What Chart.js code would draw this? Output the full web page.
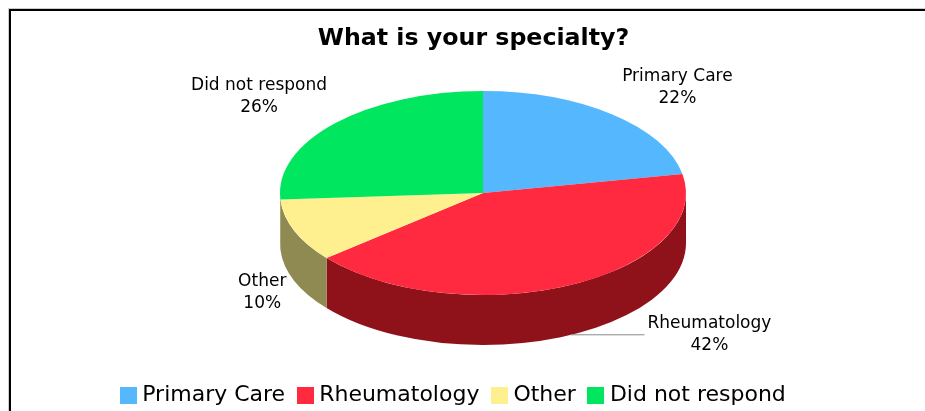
<!DOCTYPE html>
<html><head><meta charset="utf-8">
<style>
html,body{margin:0;padding:0;background:#fff;overflow:hidden}
#wrap{position:relative;width:925px;height:411px}
#frame{position:absolute;left:9px;top:9px;right:-5px;bottom:-5px;border-left:2px solid #000;border-top:2px solid #000;box-shadow:-1px -1px 0 #ccc}
canvas{position:absolute;left:0;top:0}
</style>
<script src="https://cdn.jsdelivr.net/npm/chart.js@4"></script>
</head><body>
<div id="wrap"><div id="frame"></div><canvas id="c" width="925" height="411"></canvas></div>
<script>
const titleText = "What is your specialty?";
const categories = ["Primary Care","Rheumatology","Other","Did not respond"];
const values = [22,42,10,26];
const topColors = ["#55B8FF","#FF2A3F","#FFF08F","#00E65F"];
const sideColors = ["#304F6F","#8F1119","#8F8A52","#8F8A52"];

const PIE = {cx:483, cy:193, rx:203, ry:102, depth:50};
const FONT = '"DejaVu Sans", sans-serif';
const labelOffsets = [[65,-27],[140,49],[-32,62.5],[-76,-26.5]];
const LABEL_SIZE = 17;

function applyPieTransform(ctx, arc){
  ctx.translate(PIE.cx, PIE.cy);
  ctx.scale(PIE.rx/arc.outerRadius, PIE.ry/arc.outerRadius);
  ctx.translate(-arc.x, -arc.y);
}
const pie3d = {
  id:'pie3d',
  afterLayout(chart){
    chart.titleBlock.left += 11; chart.titleBlock.right += 11;
    chart.legend.left -= 7; chart.legend.right -= 7;
    chart.legend.top += 5; chart.legend.bottom += 5;
  },
  beforeDatasetsDraw(chart){
    const ctx = chart.ctx, arcs = chart.getDatasetMeta(0).data;
    arcs.forEach((arc,i)=>{
      const a0 = Math.max(arc.startAngle,0), a1 = Math.min(arc.endAngle,Math.PI);
      if (a1 <= a0) return;
      ctx.save();
      ctx.fillStyle = sideColors[i];
      ctx.beginPath();
      ctx.ellipse(PIE.cx,PIE.cy+PIE.depth,PIE.rx,PIE.ry,0,a0,a1);
      ctx.ellipse(PIE.cx,PIE.cy,PIE.rx,PIE.ry,0,a1,a0,true);
      ctx.closePath();
      ctx.fill();
      ctx.restore();
    });
    ctx.save();
    applyPieTransform(ctx, arcs[0]);
  },
  afterDatasetsDraw(chart){
    const ctx = chart.ctx, arcs = chart.getDatasetMeta(0).data;
    ctx.restore();
    const total = values.reduce((a,b)=>a+b,0);
    ctx.save();
    ctx.font = LABEL_SIZE+'px '+FONT;
    ctx.fillStyle = '#000';
    ctx.textAlign = 'center';
    ctx.textBaseline = 'middle';
    arcs.forEach((arc,i)=>{
      const mid = (arc.startAngle+arc.endAngle)/2;
      const px = PIE.cx+PIE.rx*Math.cos(mid), py = PIE.cy+PIE.ry*Math.sin(mid);
      const lx = px+labelOffsets[i][0], ly = py+labelOffsets[i][1];
      ctx.fillText(categories[i], lx, ly-11);
      ctx.fillText(Math.round(values[i]/total*100)+'%', lx, ly+11);
      if (i===1){
        ctx.strokeStyle='#8a8a8a'; ctx.lineWidth=1;
        ctx.beginPath();
        ctx.moveTo(px+1, py+PIE.depth-0.5);
        ctx.lineTo(lx-65, py+PIE.depth-0.5);
        ctx.stroke();
      }
    });
    ctx.restore();
  }
};
function swatch(color){
  const s = document.createElement('canvas');
  s.width = 17; s.height = 17;
  const g = s.getContext('2d');
  g.fillStyle = color; g.fillRect(0,0,17,17);
  return s;
}
new Chart(document.getElementById('c'),{
  type:'pie',
  data:{labels:categories,datasets:[{data:values,backgroundColor:topColors,borderWidth:0,hoverOffset:0,
    pointStyle:topColors.map(swatch)}]},
  plugins:[pie3d],
  options:{
    responsive:false,animation:false,
    events:[],
    layout:{padding:0},
    plugins:{
      tooltip:{enabled:false},
      title:{display:true,text:titleText,color:'#000',
        font:{family:FONT,size:23.7,weight:'bold'},padding:{top:24.5,bottom:40}},
      legend:{display:true,position:'bottom',
        labels:{color:'#000',font:{family:FONT,size:22},usePointStyle:true,pointStyleWidth:6,padding:17,
          generateLabels(chart){
            return categories.map((t,i)=>({text:t,fillStyle:topColors[i],strokeStyle:topColors[i],lineWidth:0,
              pointStyle:chart.data.datasets[0].pointStyle[i],index:i,hidden:false}));
          }}}
    }
  }
});
</script>
</body></html>
